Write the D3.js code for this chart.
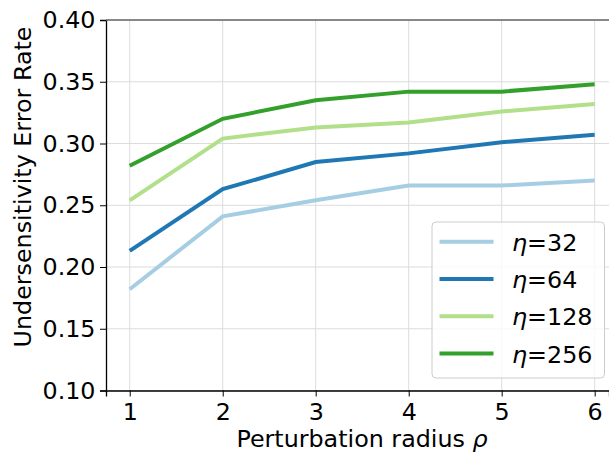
<!DOCTYPE html>
<html>
<head>
<meta charset="utf-8">
<script src="https://cdn.jsdelivr.net/npm/d3@7"></script>
<style>
  body { margin: 0; background: #fff; }
  text { font-family: "DejaVu Sans", sans-serif; }
</style>
</head>
<body>
<div id="chart"></div>
<script>
// data
const radius = [1, 2, 3, 4, 5, 6];
const eta32 = [0.182, 0.241, 0.254, 0.266, 0.266, 0.270];
const eta64 = [0.213, 0.263, 0.285, 0.292, 0.301, 0.307];
const eta128 = [0.254, 0.304, 0.313, 0.317, 0.326, 0.332];
const eta256 = [0.282, 0.320, 0.335, 0.342, 0.342, 0.348];
const seriesNames = ["η=32", "η=64", "η=128", "η=256"];
const colors = ["#a6cee3", "#1f78b4", "#b2df8a", "#33a02c"];
const yTicks = [0.10, 0.15, 0.20, 0.25, 0.30, 0.35, 0.40];

const W = 609, H = 452;
const FS = 23.8;
const margin = { top: 20, right: 0, bottom: 61.5, left: 106 };
const width = W - margin.left - margin.right,
    height = H - margin.top - margin.bottom;

const svg = d3.select("#chart").append("svg")
    .attr("width", W).attr("height", H);
const g = svg.append("g")
    .attr("transform", "translate(" + margin.left + "," + margin.top + ")");

const x = d3.scaleLinear().domain([0.745, 6.154]).range([0, width]);
const y = d3.scaleLinear().domain([0.10, 0.40]).range([height, 0]);

// grid
g.append("g").selectAll("line").data(radius).join("line")
    .attr("x1", d => x(d)).attr("x2", d => x(d))
    .attr("y1", 0).attr("y2", height)
    .attr("stroke", "#dcdcdc").attr("stroke-width", 1);
g.append("g").selectAll("line").data(yTicks).join("line")
    .attr("x1", 0).attr("x2", width)
    .attr("y1", d => y(d)).attr("y2", d => y(d))
    .attr("stroke", "#dcdcdc").attr("stroke-width", 1);

// axes
const xAxis = g.append("g")
    .attr("transform", "translate(0," + height + ")")
    .call(d3.axisBottom(x).tickValues(radius).tickFormat(d3.format("d")).tickSize(6).tickPadding(7));
const yAxis = g.append("g")
    .call(d3.axisLeft(y).tickValues(yTicks).tickFormat(d3.format(".2f")).tickSize(6).tickPadding(4.5));
[xAxis, yAxis].forEach(a => {
  a.selectAll("text").attr("font-size", FS).attr("fill", "#000")
      .style("font-family", "DejaVu Sans, sans-serif");
  a.select(".domain").attr("stroke", "#000").attr("stroke-width", 1.3);
  a.selectAll(".tick line").attr("stroke", "#000");
});

// top spine
g.append("line").attr("x1", 0).attr("x2", width).attr("y1", 0).attr("y2", 0)
    .attr("stroke", "#666").attr("stroke-width", 1.5);

// lines
const allSeries = [eta32, eta64, eta128, eta256];
const lineGen = d3.line().x((d, i) => x(radius[i])).y(d => y(d));
g.append("g").selectAll("path").data(allSeries).join("path")
    .attr("d", d => lineGen(d))
    .attr("fill", "none")
    .attr("stroke", (d, i) => colors[i])
    .attr("stroke-width", 4);

// axis labels
const xl = svg.append("text")
    .attr("x", 362).attr("y", 446.5)
    .attr("text-anchor", "middle").attr("font-size", FS);
xl.append("tspan").text("Perturbation radius ");
xl.append("tspan").attr("font-style", "italic").text("ρ");
svg.append("text")
    .attr("transform", "translate(30.5,187) rotate(-90)")
    .attr("text-anchor", "middle").attr("font-size", FS)
    .text("Undersensitivity Error Rate");

// legend
const legend = svg.append("g").attr("transform", "translate(432,222)");
legend.append("rect")
    .attr("width", 172.5).attr("height", 156).attr("rx", 4)
    .attr("fill", "#fff").attr("fill-opacity", 0.8)
    .attr("stroke", "#ccc").attr("stroke-width", 1);
const items = legend.selectAll("g.item").data(seriesNames).join("g")
    .attr("class", "item")
    .attr("transform", (d, i) => "translate(0," + (19.8 + i * 37.2) + ")");
items.append("line")
    .attr("x1", 7.5).attr("x2", 61.5)
    .attr("stroke", (d, i) => colors[i]).attr("stroke-width", 4);
items.append("text")
    .attr("x", 80).attr("y", 9.2).attr("font-size", FS)
    .each(function(d) {
      const parts = d.split("=");
      const el = d3.select(this);
      el.append("tspan").attr("font-style", "italic").text(parts[0]);
      el.append("tspan").text("=" + parts[1]);
    });
</script>
</body>
</html>
